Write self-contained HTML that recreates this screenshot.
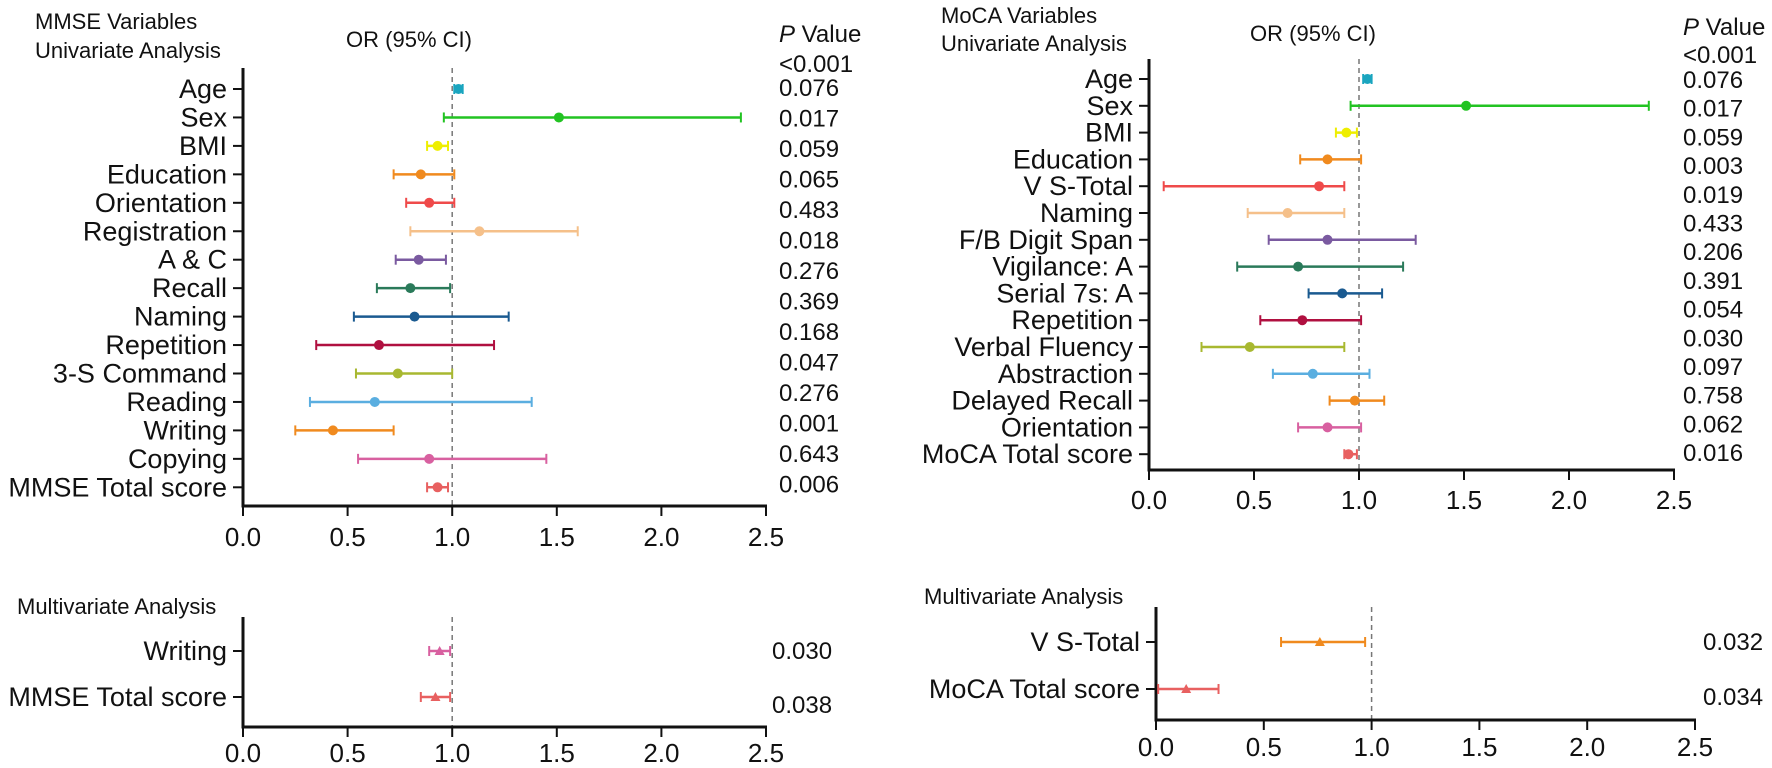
<!DOCTYPE html>
<html><head><meta charset="utf-8">
<style>
html,body{margin:0;padding:0;background:#fff;}
svg{display:block;font-family:"Liberation Sans",Arial,sans-serif;}
</style></head>
<body>
<svg id="fig" width="1772" height="768" viewBox="0 0 1772 768" xmlns="http://www.w3.org/2000/svg"></svg>
<script>
// ---- MMSE univariate ----
const mmseLabels = ["Age","Sex","BMI","Education","Orientation","Registration","A & C","Recall","Naming","Repetition","3-S Command","Reading","Writing","Copying","MMSE Total score"];
const mmseEst = [1.03,1.51,0.93,0.85,0.89,1.13,0.84,0.80,0.82,0.65,0.74,0.63,0.43,0.89,0.93];
const mmseLo  = [1.01,0.96,0.88,0.72,0.78,0.80,0.73,0.64,0.53,0.35,0.54,0.32,0.25,0.55,0.88];
const mmseHi  = [1.05,2.38,0.98,1.01,1.01,1.60,0.97,0.99,1.27,1.20,1.00,1.38,0.72,1.45,0.98];
const mmseP   = ["<0.001","0.076","0.017","0.059","0.065","0.483","0.018","0.276","0.369","0.168","0.047","0.276","0.001","0.643","0.006"];
const mmseColors = ["#1aa5bf","#22c322","#eeee00","#f08a1e","#ef4a4a","#f5c08a","#7a5aa0","#2a7a5a","#1a5a90","#b01040","#a8b830","#5aaee0","#f08a1e","#d860a0","#e86060"];
// ---- MoCA univariate ----
const mocaLabels = ["Age","Sex","BMI","Education","V S-Total","Naming","F/B Digit Span","Vigilance: A","Serial 7s: A","Repetition","Verbal Fluency","Abstraction","Delayed Recall","Orientation","MoCA Total score"];
const mocaEst = [1.04,1.51,0.94,0.85,0.81,0.66,0.85,0.71,0.92,0.73,0.48,0.78,0.98,0.85,0.95];
const mocaLo  = [1.02,0.96,0.89,0.72,0.07,0.47,0.57,0.42,0.76,0.53,0.25,0.59,0.86,0.71,0.93];
const mocaHi  = [1.06,2.38,0.99,1.01,0.93,0.93,1.27,1.21,1.11,1.01,0.93,1.05,1.12,1.01,0.99];
const mocaP   = ["<0.001","0.076","0.017","0.059","0.003","0.019","0.433","0.206","0.391","0.054","0.030","0.097","0.758","0.062","0.016"];
const mocaColors = ["#1aa5bf","#22c322","#eeee00","#f08a1e","#ef4a4a","#f5c08a","#7a5aa0","#2a7a5a","#1a5a90","#b01040","#a8b830","#5aaee0","#f08a1e","#d860a0","#e86060"];
// ---- Multivariate ----
const mmseMvLabels = ["Writing","MMSE Total score"];
const mmseMvEst = [0.94,0.92];
const mmseMvLo  = [0.89,0.85];
const mmseMvHi  = [0.99,0.99];
const mmseMvP   = ["0.030","0.038"];
const mmseMvColors = ["#d860a0","#e86060"];
const mocaMvLabels = ["V S-Total","MoCA Total score"];
const mocaMvEst = [0.76,0.14];
const mocaMvLo  = [0.58,0.01];
const mocaMvHi  = [0.97,0.29];
const mocaMvP   = ["0.032","0.034"];
const mocaMvColors = ["#f08a1e","#e86060"];
const ticks = [0,0.5,1,1.5,2,2.5];
const tickLabels = ["0.0","0.5","1.0","1.5","2.0","2.5"];

const NS="http://www.w3.org/2000/svg";
const svg=document.getElementById('fig');
function mk(tag,attrs,parent){const e=document.createElementNS(NS,tag);for(const k in attrs)e.setAttribute(k,attrs[k]);(parent||svg).appendChild(e);return e;}
function txt(s,x,y,size,anchor,parent){const t=mk('text',{x:x,y:y,'font-size':size,'text-anchor':anchor||'start',fill:'#111'},parent);t.textContent=s;return t;}

function panel(p){
  const g=mk('g',{});
  
  
  const sx=v=>p.x0+v*p.unit;
  const rowY=i=>p.rowTop+i*p.rowStep;
  const ref=mk('line',{x1:sx(1),x2:sx(1),y1:p.axTop,y2:p.axBottom,stroke:'#777','stroke-width':1.5,'stroke-dasharray':'5,4'},g);
  
  
  const ya=mk('line',{x1:p.x0,x2:p.x0,y1:p.axTop,y2:p.axBottom+1.5,stroke:'#111','stroke-width':3},g);
  
  
  const xa=mk('line',{x1:p.x0-1.5,x2:sx(2.5)+1,y1:p.axBottom,y2:p.axBottom,stroke:'#111','stroke-width':3},g);
  
  
  ticks.forEach((t,i)=>{
    mk('line',{x1:sx(t),x2:sx(t),y1:p.axBottom,y2:p.axBottom+10,stroke:'#111','stroke-width':2},g);
    const tl=txt(tickLabels[i],sx(t),p.tickY,26,'middle',g);
    
    
  });
  p.labels.forEach((lab,i)=>{
    const y=rowY(i);
    mk('line',{x1:p.x0-10,x2:p.x0,y1:y,y2:y,stroke:'#111','stroke-width':2},g);
    const l=txt(lab,p.x0-16,y+9,p.labelSize,'end',g);
    
    
    const c=p.colors[i];
    const ci=mk('g',{},g);
    
    
    mk('line',{x1:sx(p.lo[i]),x2:sx(p.hi[i]),y1:y,y2:y,stroke:c,'stroke-width':2.5},ci);
    mk('line',{x1:sx(p.lo[i]),x2:sx(p.lo[i]),y1:y-5,y2:y+5,stroke:c,'stroke-width':2},ci);
    mk('line',{x1:sx(p.hi[i]),x2:sx(p.hi[i]),y1:y-5,y2:y+5,stroke:c,'stroke-width':2},ci);
    if(p.tri){
      const x=sx(p.est[i]);
      mk('polygon',{points:`${x-5},${y+4} ${x+5},${y+4} ${x},${y-5}`,fill:c},ci);
    } else {
      mk('circle',{cx:sx(p.est[i]),cy:y,r:5,fill:c},ci);
    }
  });
  p.pvals.forEach((v,i)=>{
    const t=txt(v,p.px,p.pY(i),24,'start',g);
    
    
  });
}

function hdr(s,x,y,size,name,anchor){const t=txt(s,x,y,size,anchor||'start');return t;}
hdr("MMSE Variables",35,29,22,'mmse-title');
hdr("Univariate Analysis",35,58,22,'mmse-univariate-title');
hdr("OR (95% CI)",409,47,22,'mmse-or-header','middle');
const ph1=txt("",779,42,24);ph1.innerHTML='<tspan font-style="italic">P</tspan> Value';


hdr("MoCA Variables",941,23,22,'moca-title');
hdr("Univariate Analysis",941,51,22,'moca-univariate-title');
hdr("OR (95% CI)",1313,41,22,'moca-or-header','middle');
const ph2=txt("",1683,35,24);ph2.innerHTML='<tspan font-style="italic">P</tspan> Value';


hdr("Multivariate Analysis",17,614,22,'mmse-multivariate-title');
hdr("Multivariate Analysis",924,604,22,'moca-multivariate-title');

panel({name:'mmse-univariate-panel',labels:mmseLabels,est:mmseEst,lo:mmseLo,hi:mmseHi,pvals:mmseP,colors:mmseColors,
  x0:243,unit:209.2,rowTop:89,rowStep:28.45,axTop:68,axBottom:506,tickY:546,labelSize:27,px:779,
  pY:i=>i===0?72:96+(i-1)*30.5});
panel({name:'moca-univariate-panel',labels:mocaLabels,est:mocaEst,lo:mocaLo,hi:mocaHi,pvals:mocaP,colors:mocaColors,
  x0:1149,unit:210,rowTop:79,rowStep:26.8,axTop:59,axBottom:470,tickY:509,labelSize:27,px:1683,
  pY:i=>i===0?63:88+(i-1)*28.7});
panel({name:'mmse-multivariate-panel',labels:mmseMvLabels,est:mmseMvEst,lo:mmseMvLo,hi:mmseMvHi,pvals:mmseMvP,colors:mmseMvColors,tri:true,
  x0:243,unit:209.2,rowTop:651,rowStep:46,axTop:617,axBottom:727,tickY:762,labelSize:27,px:772,
  pY:i=>659+i*54});
panel({name:'moca-multivariate-panel',labels:mocaMvLabels,est:mocaMvEst,lo:mocaMvLo,hi:mocaMvHi,pvals:mocaMvP,colors:mocaMvColors,tri:true,
  x0:1156,unit:215.6,rowTop:642,rowStep:47,axTop:607,axBottom:720,tickY:756,labelSize:27,px:1703,
  pY:i=>650+i*55});
</script>
</body></html>
